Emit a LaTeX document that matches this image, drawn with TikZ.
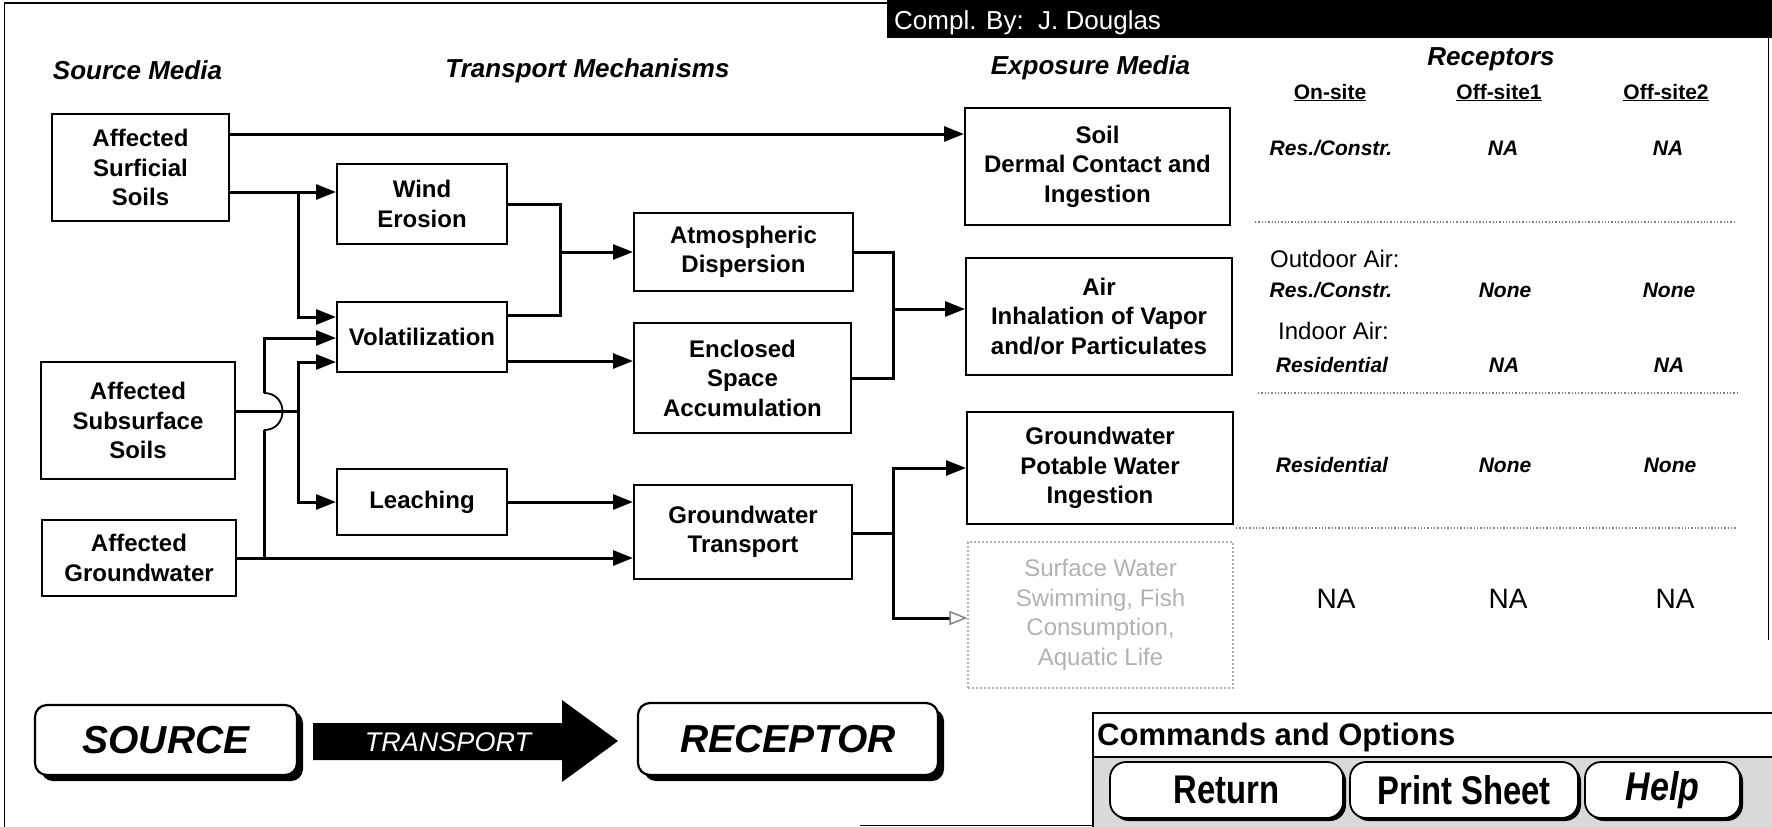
\documentclass[tikz,border=0pt]{standalone}
\usepackage{fontspec}
\setmainfont{Liberation Sans}
\usetikzlibrary{arrows.meta,shadows}
\newcommand{\fsz}[1]{\fontsize{#1}{#1}\selectfont}
\begin{document}
\begin{tikzpicture}[x=1pt,y=-1pt,
  box/.style={draw, line width=2pt, fill=white, inner sep=0pt, align=center, font=\fontsize{24}{29.5}\selectfont\bfseries},
  ln/.style={line width=3pt},
  tip/.tip={Triangle[length=20pt,width=15pt]},
  conn/.style={line width=3pt, -tip},
  both/.style={line width=3pt, tip-tip},
  hdr/.style={anchor=base, inner sep=0pt, font=\fsz{26}\bfseries\itshape},
  col/.style={anchor=base, inner sep=0pt, font=\fsz{21}\bfseries},
  cell/.style={anchor=base, inner sep=0pt, font=\fsz{21}\bfseries\itshape},
  lbl/.style={anchor=base west, inner sep=0pt, font=\fsz{24}},
  na/.style={anchor=base, inner sep=0pt, font=\fsz{28}},
  sep/.style={dotted, line width=1.3pt, gray},
  big/.style={draw, line width=2.2pt, fill=white, rounded corners=12pt, inner sep=0pt, font=\fsz{39}\bfseries\itshape, drop shadow={shadow xshift=6pt, shadow yshift=-6pt, opacity=1, fill=black}},
  btn/.style={draw, line width=1.8pt, fill=white, rounded corners=16pt, inner sep=0pt, font=\fsz{40}\bfseries, drop shadow={shadow xshift=3pt, shadow yshift=-3pt, opacity=1, fill=black}}
]
\useasboundingbox (0,0) rectangle (1772,827);
\fill[white] (0,0) rectangle (1772,827);

% frame and header bar
\draw[line width=1.5pt] (887,3) -- (4.5,3) -- (4.5,827);
\draw[line width=1.5pt] (1768.5,38) -- (1768.5,640);
\draw[line width=1.5pt] (860,825.5) -- (1772,825.5);
\fill[black] (887,0) rectangle (1772,38);
\node[anchor=base west, text=white, font=\fsz{26}, inner sep=0pt] (cby) at (894,29) {Compl. By:\ \ J. Douglas};

% column headers
\node[hdr] (hsrc) at (137.5,79) {Source Media};
\node[hdr] (htr) at (587.5,77) {Transport Mechanisms};
\node[hdr] (hexp) at (1090.5,74) {Exposure Media};
\node[hdr] (hrec) at (1491,65) {Receptors};

% boxes
\node[box, minimum width=177pt, minimum height=107pt] (surf) at (140.5,167.5) {Affected\\Surficial\\Soils};
\node[box, minimum width=194pt, minimum height=117pt] (subs) at (138,420.5) {Affected\\Subsurface\\Soils};
\node[box, minimum width=194pt, minimum height=76pt] (gw) at (139,558) {Affected\\Groundwater};
\node[box, minimum width=170pt, minimum height=80pt] (wind) at (422,204) {Wind\\Erosion};
\node[box, minimum width=170pt, minimum height=70pt] (vol) at (422,337) {Volatilization};
\node[box, minimum width=170pt, minimum height=66pt] (leach) at (422,502) {Leaching};
\node[box, minimum width=219pt, minimum height=78pt] (atm) at (743.5,252) {Atmospheric\\Dispersion};
\node[box, minimum width=217pt, minimum height=110pt] (encl) at (742.5,378) {Enclosed\\Space\\Accumulation};
\node[box, minimum width=218pt, minimum height=94pt] (gwt) at (743,532) {Groundwater\\Transport};
\node[box, minimum width=265pt, minimum height=117pt] (soil) at (1097.5,166.5) {Soil\\Dermal Contact and\\Ingestion};
\node[box, minimum width=266pt, minimum height=117pt] (air) at (1099,316.5) {Air\\Inhalation of Vapor\\and/or Particulates};
\node[box, minimum width=266pt, minimum height=112pt] (pot) at (1100,468) {Groundwater\\Potable Water\\Ingestion};
\node[box, draw=gray!60, dotted, line width=1.3pt, text=gray!60, font=\fontsize{24}{29.5}\selectfont, minimum width=265pt, minimum height=146pt] (surfw) at (1100.5,615) {Surface Water\\Swimming, Fish\\Consumption,\\Aquatic Life};

% connectors
\coordinate (a1) at (300,134);
\coordinate (a2) at (298,192);
\coordinate (a3) at (298,317);
\draw[conn] (surf.east |- a1) -- (soil.west |- a1);
\draw[ln] (surf.east |- a2) -- (a2);
\draw[both] (wind.west |- a2) -- (a2) -- (a3) -- (vol.west |- a3);

\coordinate (b0) at (298,411);
\coordinate (b1) at (298,362);
\coordinate (b2) at (298,502);
\draw[ln] (subs.east |- b0) -- (b0);
\draw[both] (vol.west |- b1) -- (b1) -- (b2) -- (leach.west |- b2);

\coordinate (c0) at (264,558);
\coordinate (c1) at (264,430);
\coordinate (c2) at (264,393);
\coordinate (c3) at (264,338);
\draw[conn] (gw.east) -- (gwt.west |- gw.east);
\draw[ln] (c0) -- (c1);
\draw[line width=1.8pt] (c1) .. controls +(24.7,0) and +(24.7,0) .. (c2);
\draw[conn] (c2) -- (c3) -- (vol.west |- c3);

\coordinate (d1) at (560,204);
\coordinate (d2) at (560,315);
\coordinate (d3) at (560,252);
\draw[ln] (wind.east) -- (d1) -- (d2) -- (vol.east |- d2);
\draw[conn] (d3) -- (atm.west);

\coordinate (e1) at (570,361);
\draw[conn] (vol.east |- e1) -- (encl.west |- e1);
\draw[conn] (leach.east) -- (gwt.west |- leach.east);

\coordinate (f1) at (893,252);
\coordinate (f2) at (893,378);
\coordinate (f3) at (893,309);
\draw[ln] (atm.east) -- (f1) -- (f2) -- (encl.east);
\draw[conn] (f3) -- (air.west |- f3);

\coordinate (g1) at (893,533);
\coordinate (g2) at (893,468);
\coordinate (g3) at (893,618);
\draw[ln] (gwt.east |- g1) -- (g1);
\draw[line width=3pt, tip-{Triangle[open, length=18pt, width=14pt, line width=1.4pt, color=gray]}] (pot.west |- g2) -- (g2) -- (g3) -- (surfw.west |- g3);

% receptors table
\node[col] (on) at (1330,99) {\underline{On-site}};
\node[col] (off1) at (1499,99) {\underline{Off-site1}};
\node[col] (off2) at (1666,99) {\underline{Off-site2}};

\node[cell] (r11) at (1331,155) {Res./Constr.};
\node[cell] (r12) at (1503,155) {NA};
\node[cell] (r13) at (1668,155) {NA};
\draw[sep] (1255,222) -- (1735,222);

\node[lbl] (outd) at (1270,267) {Outdoor Air:};
\node[cell] (r21) at (1331,297) {Res./Constr.};
\node[cell] (r22) at (1505,297) {None};
\node[cell] (r23) at (1669,297) {None};
\node[lbl] (ind) at (1278,339) {Indoor Air:};
\node[cell] (r24) at (1332,372) {Residential};
\node[cell] (r25) at (1504,372) {NA};
\node[cell] (r26) at (1669,372) {NA};
\draw[sep] (1258,393) -- (1738,393);

\node[cell] (r31) at (1332,472) {Residential};
\node[cell] (r32) at (1505,472) {None};
\node[cell] (r33) at (1670,472) {None};
\draw[sep] (1236,528) -- (1736,528);

\node[na] (r41) at (1336,608) {NA};
\node[na] (r42) at (1508,608) {NA};
\node[na] (r43) at (1675,608) {NA};

% source - transport - receptor
\node[big, minimum width=262pt, minimum height=70pt] (src) at (166,740) {SOURCE};
\fill[black] (313,723) -- (562,723) -- (562,700) -- (618,741) -- (562,782) -- (562,760) -- (313,760) -- cycle;
\node[font=\fsz{27}\itshape, text=white, inner sep=0pt] (trn) at (448,742) {TRANSPORT};
\node[big, minimum width=300pt, minimum height=72pt] (rec) at (788,739) {RECEPTOR};

% commands panel
\fill[gray!30] (1093,757) rectangle (1772,827);
\draw[line width=1.5pt] (1772,713) -- (1093,713) -- (1093,827);
\draw[line width=1.2pt] (1093,757) -- (1772,757);
\node[anchor=base west, inner sep=0pt, font=\fsz{31}\bfseries] (cmd) at (1097,745) {Commands and Options};
\node[btn, minimum width=233pt, minimum height=56pt] (ret) at (1226.5,790) {\scalebox{0.82}[1]{Return}};
\node[btn, minimum width=228pt, minimum height=56pt] (prt) at (1464,790) {\scalebox{0.82}[1]{Print Sheet}};
\node[btn, minimum width=155pt, minimum height=56pt, font=\fsz{40}\bfseries\itshape] (hlp) at (1662.5,790) {\scalebox{0.85}[1]{Help}};
\end{tikzpicture}
\end{document}
